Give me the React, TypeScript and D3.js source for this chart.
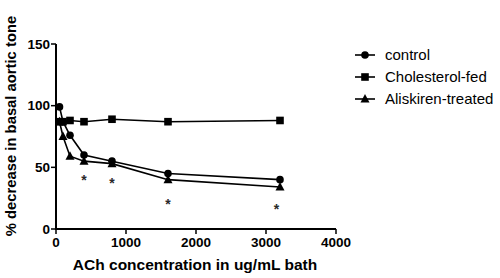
import React from "react";
import * as d3 from "d3";

const concentrations = [50, 100, 200, 400, 800, 1600, 3200];
const controlValues = [99, 87, 76, 60, 55, 45, 40];
const cholesterolValues = [87, 87, 88, 87, 89, 87, 88];
const aliskirenValues = [87, 75, 59, 55, 53, 40, 34];
const asteriskX = [400, 800, 1600, 3150];
const asteriskY = [44, 42, 25, 21];
const xTicks = [0, 1000, 2000, 3000, 4000];
const yTicks = [0, 50, 100, 150];
const seriesNames = ["control", "Cholesterol-fed", "Aliskiren-treated"];

const W = 500, H = 278;
const font = "'Liberation Sans', Arial, sans-serif";

function Marker({ type, x, y }: { type: string; x: number; y: number }) {
  if (type === "circle") return <circle cx={x} cy={y} r={3.8} fill="#000" />;
  if (type === "square") return <rect x={x - 3.8} y={y - 3.8} width={7.6} height={7.6} fill="#000" />;
  const s = 4.5;
  return <path d={`M${x},${y - s - 0.5}L${x + s},${y + s - 1}L${x - s},${y + s - 1}Z`} fill="#000" />;
}

export default function App() {
  const x = d3.scaleLinear().domain([0, 4000]).range([56, 336]);
  const y = d3.scaleLinear().domain([0, 150]).range([229, 44]);
  const line = d3.line<[number, number]>().x(d => x(d[0])).y(d => y(d[1]));
  const series = [
    { vals: controlValues, type: "circle" },
    { vals: cholesterolValues, type: "square" },
    { vals: aliskirenValues, type: "triangle" },
  ];
  return (
    <svg width={W} height={H} style={{ position: "absolute", left: 0, top: 0, background: "#fff" }}>
      {/* axes */}
      <line x1={x(0)} x2={x(0)} y1={y(0) + 1} y2={y(150)} stroke="#000" strokeWidth={2} />
      <line x1={x(0) - 1} x2={x(4000)} y1={y(0)} y2={y(0)} stroke="#000" strokeWidth={2} />
      {yTicks.map(t => (
        <g key={"y" + t}>
          <line x1={x(0) - 5} x2={x(0)} y1={y(t)} y2={y(t)} stroke="#000" strokeWidth={1.5} />
          <text x={x(0) - 6} y={y(t)} dy="0.35em" textAnchor="end" fontFamily={font} fontWeight="bold" fontSize={13.5}>{t}</text>
        </g>
      ))}
      {xTicks.map(t => (
        <g key={"x" + t}>
          <line x1={x(t)} x2={x(t)} y1={y(0)} y2={y(0) + 5} stroke="#000" strokeWidth={1.5} />
          <text x={x(t)} y={y(0) + 18} textAnchor="middle" fontFamily={font} fontWeight="bold" fontSize={13.5}>{t}</text>
        </g>
      ))}
      <text x={(x(0) + x(4000)) / 2 - 1} y={270} textAnchor="middle" fontFamily={font} fontWeight="bold" fontSize={15.5}>ACh concentration in ug/mL bath</text>
      <text transform="translate(16,126) rotate(-90)" textAnchor="middle" fontFamily={font} fontWeight="bold" fontSize={14.8}>% decrease in basal aortic tone</text>
      {/* series */}
      {series.map((s, i) => {
        const pts = concentrations.map((c, j) => [c, s.vals[j]] as [number, number]);
        return (
          <g key={i}>
            <path d={line(pts) || ""} fill="none" stroke="#000" strokeWidth={1.6} />
            {pts.map((p, j) => <Marker key={j} type={s.type} x={x(p[0])} y={y(p[1])} />)}
          </g>
        );
      })}
      {asteriskX.map((a, i) => (
        <text key={i} x={x(a)} y={y(asteriskY[i])} dy="0.75em" textAnchor="middle" fontFamily={font} fontWeight="bold" fontSize={14} fill="#2a2a2a">*</text>
      ))}
      {/* legend */}
      {seriesNames.map((n, i) => {
        const ly = 55 + i * 22;
        return (
          <g key={n}>
            <line x1={355} x2={375} y1={ly} y2={ly} stroke="#000" strokeWidth={1.6} />
            <Marker type={series[i].type} x={365} y={ly} />
            <text x={385} y={ly} dy="0.35em" fontFamily={font} fontSize={15}>{n}</text>
          </g>
        );
      })}
    </svg>
  );
}
